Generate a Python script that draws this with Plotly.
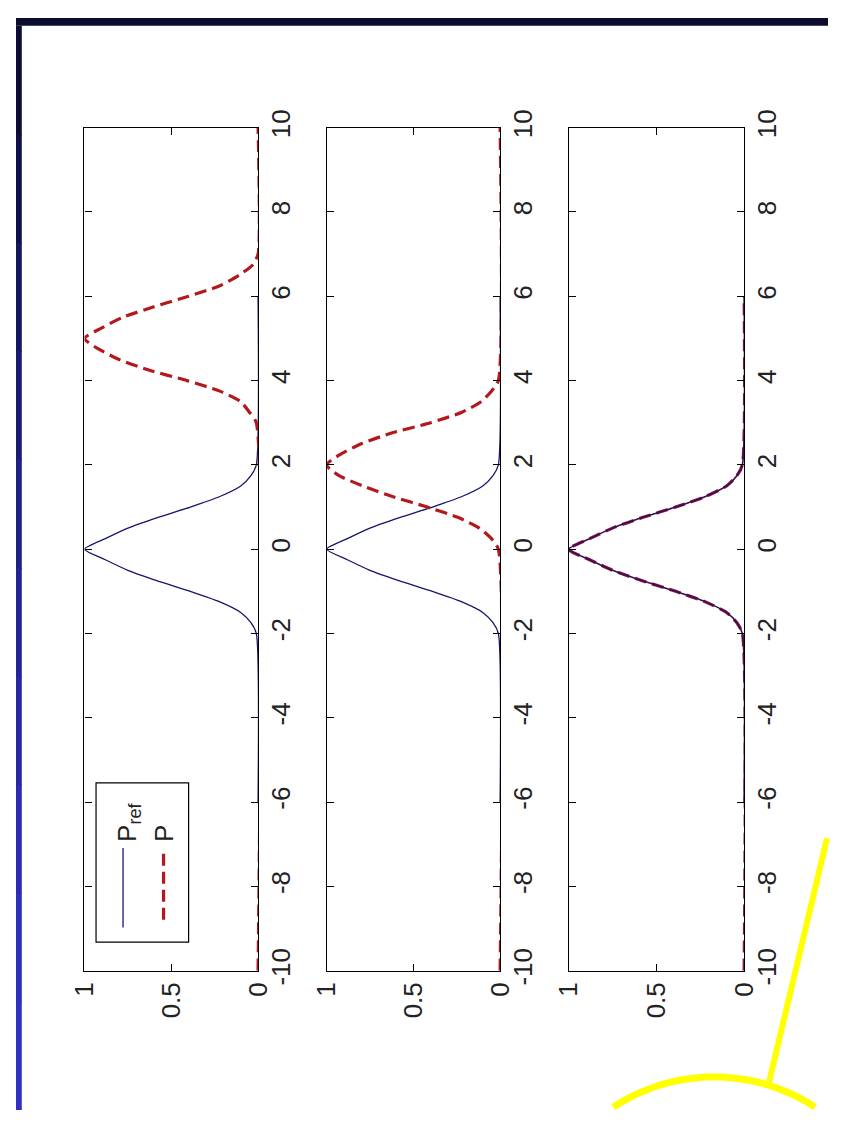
import math
import plotly.graph_objects as go

# Reference density P_ref (defined on the grid -6..6)
x_ref = [-6, -2, -1.75, -1.5, -1.25, -1, -0.75, -0.5, -0.25, 0,
         0.25, 0.5, 0.75, 1, 1.25, 1.5, 1.75, 2, 6]
p_ref = [0, 0.01, 0.04, 0.10, 0.22, 0.39, 0.58, 0.75, 0.88, 1.0,
         0.88, 0.75, 0.58, 0.39, 0.22, 0.10, 0.04, 0.01, 0]

# Panel 1: P centred near 5
x_p1 = [-10, 3, 3.25, 3.5, 3.75, 4, 4.25, 4.5, 4.75, 5,
        5.25, 5.5, 5.75, 6, 6.25, 6.5, 6.75, 7, 10]
p_1 = [0, 0.01, 0.05, 0.10, 0.22, 0.41, 0.63, 0.80, 0.92, 1.0,
       0.90, 0.78, 0.60, 0.40, 0.22, 0.11, 0.03, 0.0, 0]

# Panel 2: P centred near 2
x_p2 = [-10, 0, 0.25, 0.5, 0.75, 1, 1.25, 1.5, 1.75, 2,
        2.25, 2.5, 2.75, 3, 3.25, 3.5, 3.75, 4, 10]
p_2 = [0, 0.01, 0.05, 0.12, 0.24, 0.42, 0.62, 0.79, 0.93, 1.0,
       0.92, 0.80, 0.63, 0.40, 0.22, 0.11, 0.05, 0.01, 0]

# Panel 3: P has converged onto P_ref
x_p3 = [-10, -2, -1.75, -1.5, -1.25, -1, -0.75, -0.5, -0.25, 0,
        0.25, 0.5, 0.75, 1, 1.25, 1.5, 1.75, 2, 6]
p_3 = [0, 0.01, 0.04, 0.10, 0.22, 0.39, 0.58, 0.75, 0.88, 1.0,
       0.88, 0.75, 0.58, 0.39, 0.22, 0.10, 0.04, 0.01, 0]

pos_ticks = [-10, -8, -6, -4, -2, 0, 2, 4, 6, 8, 10]
pos_labels = ["-10", "-8", "-6", "-4", "-2", "0", "2", "4", "6", "8", "10"]
val_ticks = [0, 0.5, 1]
val_labels = ["0", "0.5", "1"]

W, H = 842, 1125
REF_COLOR = "#16166a"
P_COLOR = "#b3191c"
DASH = "12px,6px"
FONT = dict(family="Liberation Sans, Arial, sans-serif", size=26, color="#222222")


def px(x):
    return x / W


def py(y):
    return 1 - y / H


# panel frames in pixels (left, right), shared top/bottom
panels = [(71, 251), (322, 502), (573, 755)]
top_px, bot_px = 113, 981.5

fig = go.Figure()

series = [
    [(x_ref, p_ref, dict(color=REF_COLOR, width=1.3)),
     (x_p1, p_1, dict(color=P_COLOR, width=3.2, dash=DASH))],
    [(x_ref, p_ref, dict(color=REF_COLOR, width=1.3)),
     (x_p2, p_2, dict(color=P_COLOR, width=3.2, dash=DASH))],
    [(x_p3, p_3, dict(color="#8a1c48", width=3.2, dash=DASH)),
     (x_ref, p_ref, dict(color="#3a0d4e", width=1.6))],
]

for i, (l, r) in enumerate(panels, start=1):
    xa = "x" if i == 1 else f"x{i}"
    ya = "y" if i == 1 else f"y{i}"
    for xs, vals, line in series[i - 1]:
        fig.add_trace(go.Scatter(x=vals, y=xs, mode="lines",
                                 line=dict(shape="spline", smoothing=0.6, **line),
                                 xaxis=xa, yaxis=ya, showlegend=False,
                                 hoverinfo="skip"))
    common = dict(showline=True, linecolor="black", linewidth=1.2, mirror="ticks",
                  ticks="inside", ticklen=7, tickcolor="black", showgrid=False,
                  zeroline=False, tickfont=FONT, tickangle=-90, fixedrange=True)
    fig.layout[f"xaxis{i}" if i > 1 else "xaxis"] = dict(
        domain=[px(l), px(r)], range=[1, 0], anchor=ya, side="bottom",
        tickvals=val_ticks, ticktext=val_labels, ticklabelstandoff=0, **common)
    fig.layout[f"yaxis{i}" if i > 1 else "yaxis"] = dict(
        domain=[py(bot_px), py(top_px)], range=[-10, 10], anchor=xa, side="right",
        tickvals=pos_ticks, ticktext=pos_labels, ticklabelstandoff=0, **common)

shapes = []
# slide backdrop: dark band on top, blue gradient strip on the left
shapes.append(dict(type="rect", xref="paper", yref="paper", x0=0, x1=1,
                   y0=py(8), y1=1, fillcolor="#0b0c2e", line_width=0, layer="below"))
strip_cols = ["#0c0d33", "#10114a", "#15165e", "#1a1b72", "#1f2084",
              "#232494", "#2627a3", "#2a2bb0", "#2d2eba", "#3031c2"]
n = len(strip_cols)
for k, c in enumerate(strip_cols):
    y0 = 8 + k * (H - 8) / n
    y1 = 8 + (k + 1) * (H - 8) / n
    shapes.append(dict(type="rect", xref="paper", yref="paper", x0=0, x1=px(6),
                       y0=max(py(y1) - 0.001, 0), y1=py(y0), fillcolor=c, line_width=0,
                       layer="below"))

# legend box in panel 1
shapes.append(dict(type="rect", xref="paper", yref="paper", x0=px(83), x1=px(179),
                   y0=py(952), y1=py(788), line=dict(color="black", width=1.2),
                   fillcolor="white"))
shapes.append(dict(type="line", xref="paper", yref="paper", x0=px(111), x1=px(111),
                   y0=py(937), y1=py(855), line=dict(color=REF_COLOR, width=1.3)))
shapes.append(dict(type="line", xref="paper", yref="paper", x0=px(153), x1=px(153),
                   y0=py(929), y1=py(855), line=dict(color=P_COLOR, width=3.2, dash=DASH)))

# yellow call-out: line plus the top of a circle, kept inside the page
shapes.append(dict(type="line", xref="paper", yref="paper", x0=px(841), y0=py(845),
                   x1=px(780), y1=py(1100), line=dict(color="#ffff00", width=6)))
cx, cy, rad = 724.0, 1282.7, 191.7
half = math.acos((cy - 1122.0) / rad)
pts = []
steps = 40
for s in range(steps + 1):
    a = -half + 2 * half * s / steps
    pts.append((cx + rad * math.sin(a), cy - rad * math.cos(a)))
path = "M " + " L ".join(f"{px(x):.5f},{py(y):.5f}" for x, y in pts)
shapes.append(dict(type="path", xref="paper", yref="paper", path=path,
                   line=dict(color="#ffff00", width=7)))

annotations = [
    dict(text="P<sub>ref</sub>", xref="paper", yref="paper", x=px(116), y=py(851),
         xanchor="center", yanchor="bottom", textangle=-90, showarrow=False, font=FONT),
    dict(text="P", xref="paper", yref="paper", x=px(153), y=py(851),
         xanchor="center", yanchor="bottom", textangle=-90, showarrow=False, font=FONT),
]

fig.update_layout(width=W, height=H, margin=dict(l=0, r=0, t=0, b=0),
                  paper_bgcolor="white", plot_bgcolor="white",
                  shapes=shapes, annotations=annotations, showlegend=False)

fig.write_html("out.html")
